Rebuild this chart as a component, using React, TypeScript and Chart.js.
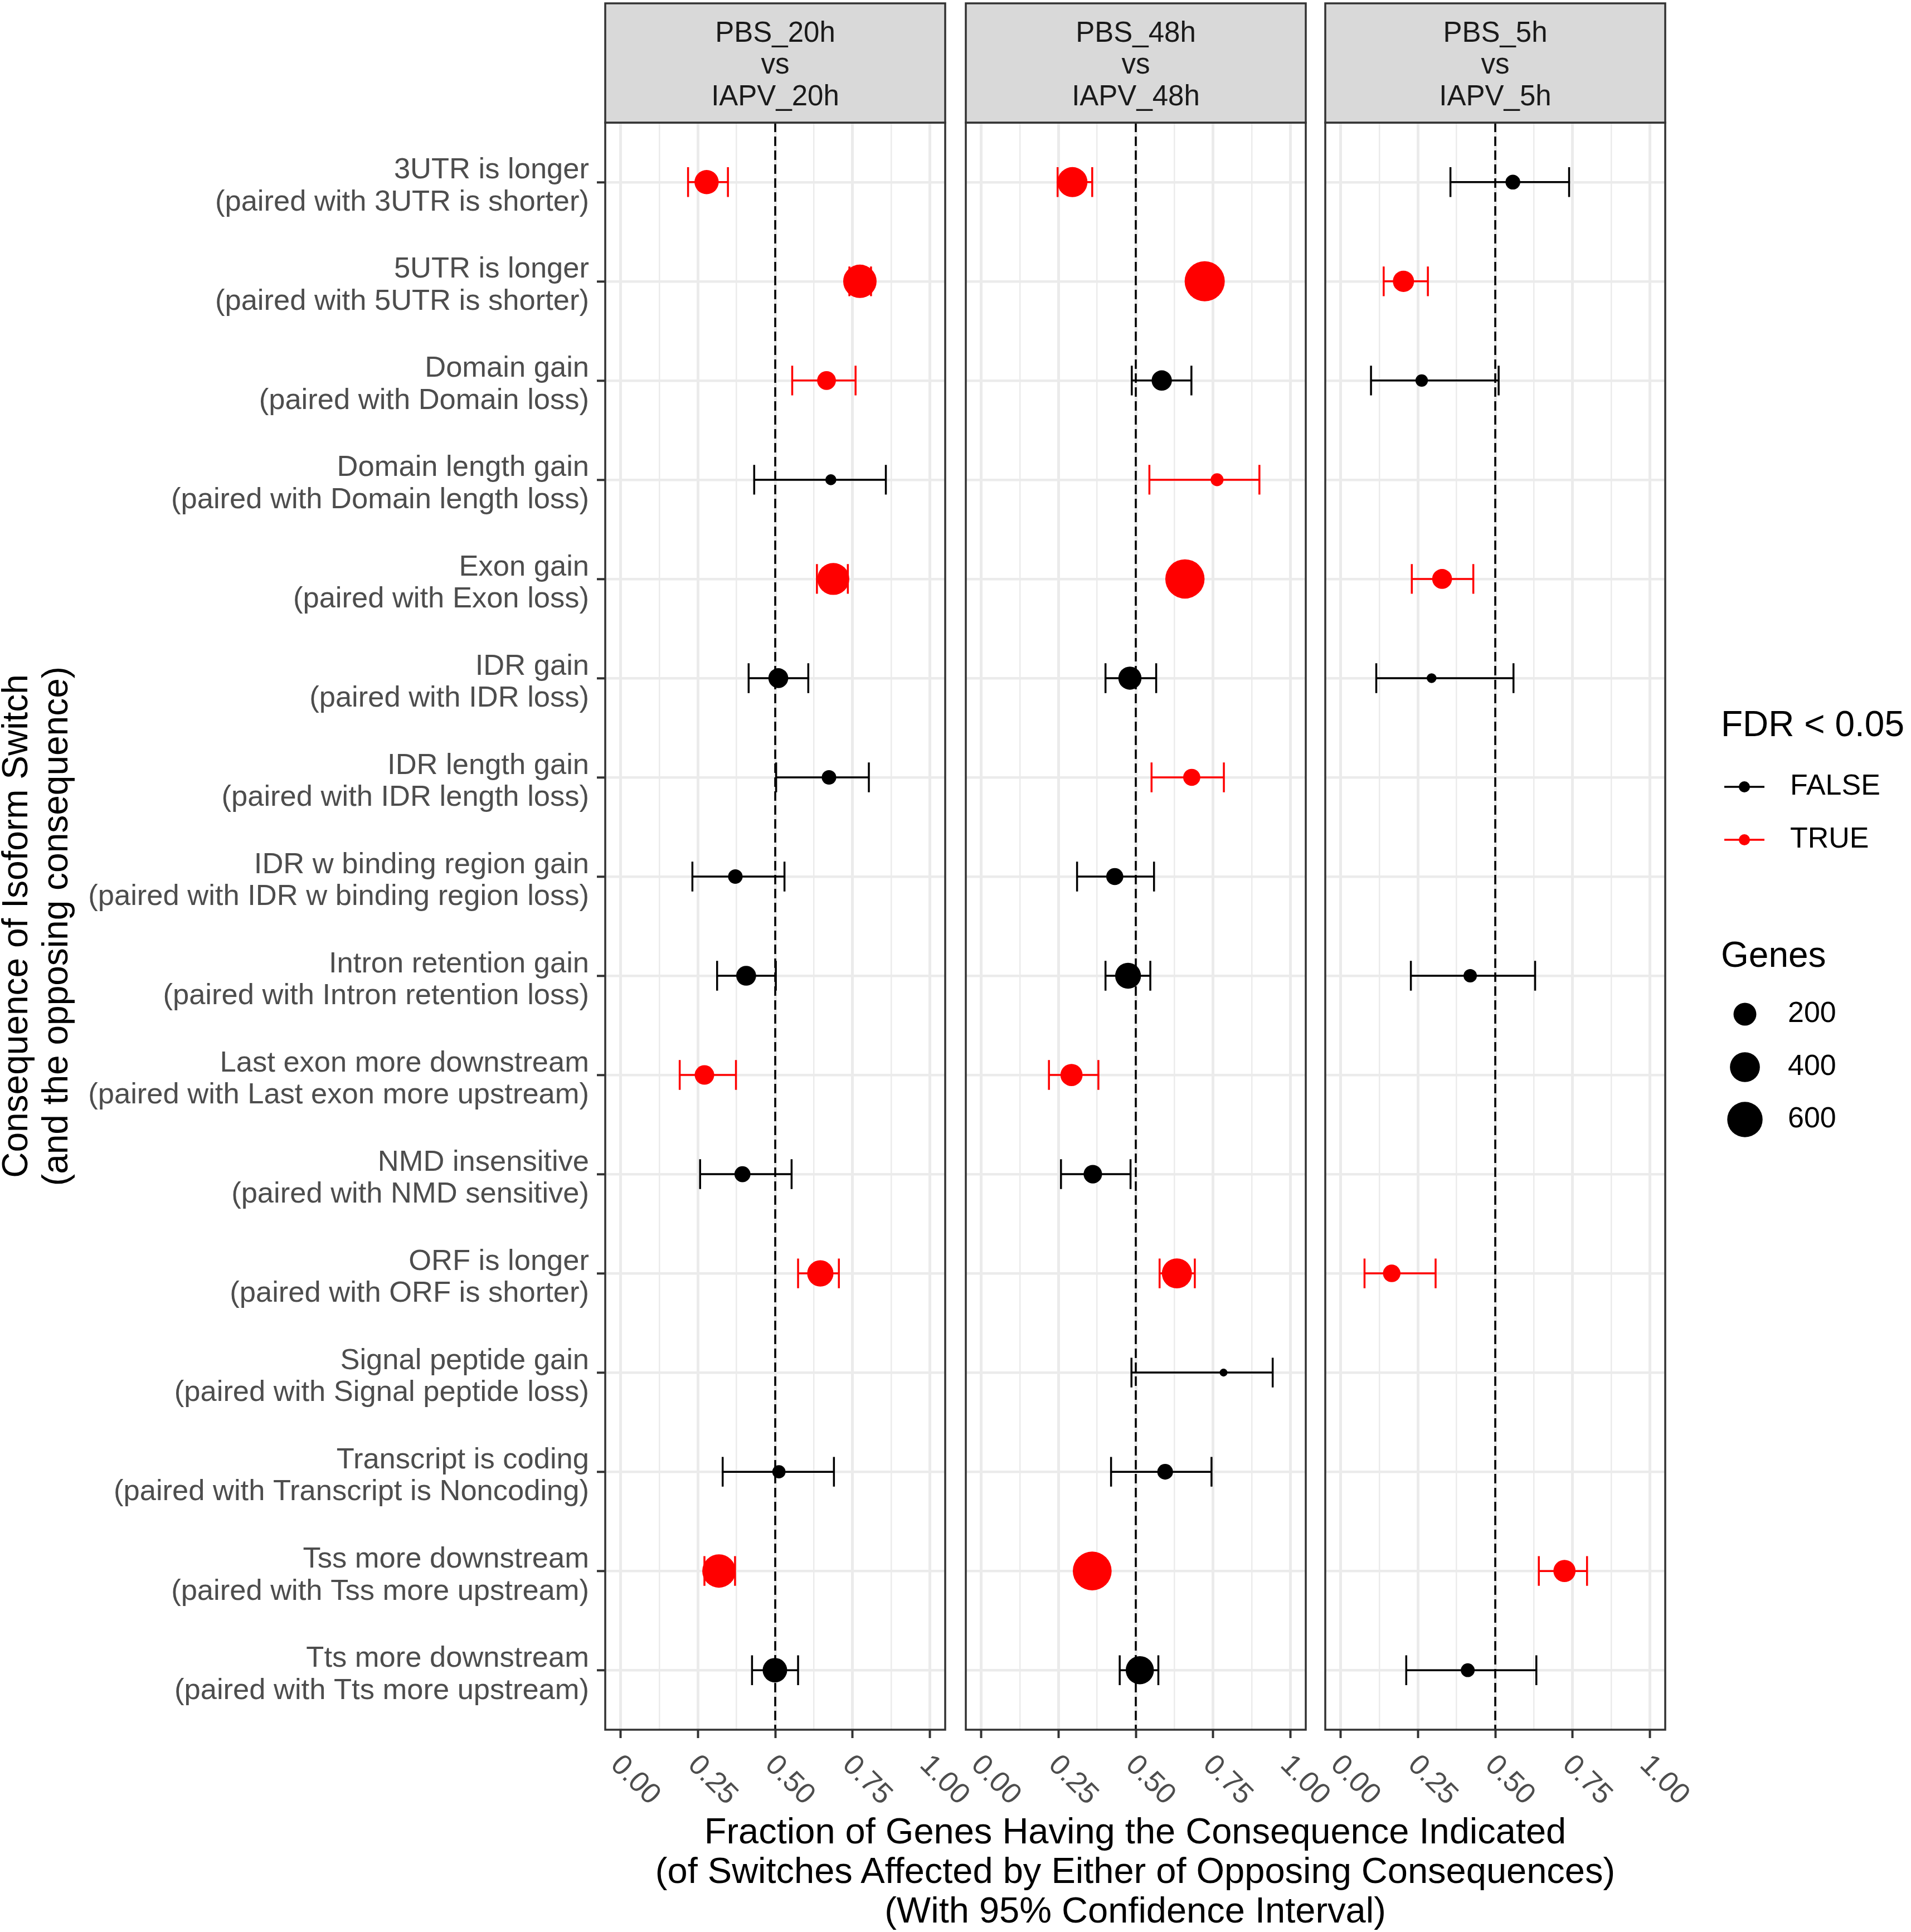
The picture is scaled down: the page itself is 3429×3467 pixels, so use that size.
import React, { useEffect, useRef } from "react";
import { Chart, registerables } from "chart.js";
Chart.register(...registerables);

const FONT = "'Liberation Sans', Arial, Helvetica, sans-serif";

// ---------- data ----------
const categories: string[][] = [
  ["3UTR is longer", "(paired with 3UTR is shorter)"],
  ["5UTR is longer", "(paired with 5UTR is shorter)"],
  ["Domain gain", "(paired with Domain loss)"],
  ["Domain length gain", "(paired with Domain length loss)"],
  ["Exon gain", "(paired with Exon loss)"],
  ["IDR gain", "(paired with IDR loss)"],
  ["IDR length gain", "(paired with IDR length loss)"],
  ["IDR w binding region gain", "(paired with IDR w binding region loss)"],
  ["Intron retention gain", "(paired with Intron retention loss)"],
  ["Last exon more downstream", "(paired with Last exon more upstream)"],
  ["NMD insensitive", "(paired with NMD sensitive)"],
  ["ORF is longer", "(paired with ORF is shorter)"],
  ["Signal peptide gain", "(paired with Signal peptide loss)"],
  ["Transcript is coding", "(paired with Transcript is Noncoding)"],
  ["Tss more downstream", "(paired with Tss more upstream)"],
  ["Tts more downstream", "(paired with Tts more upstream)"],
];

const panelTitles: string[][] = [
  ["PBS_20h", "vs", "IAPV_20h"],
  ["PBS_48h", "vs", "IAPV_48h"],
  ["PBS_5h", "vs", "IAPV_5h"],
];

const xTicks = [0, 0.25, 0.5, 0.75, 1];
const xTickLabels = ["0.00", "0.25", "0.50", "0.75", "1.00"];
const xMinorTicks = [0.125, 0.375, 0.625, 0.875];

// PBS_20h vs IAPV_20h
const frac20h = [0.278, 0.774, 0.666, 0.68, 0.688, 0.51, 0.674, 0.371, 0.406, 0.271, 0.394, 0.646, null, 0.512, 0.318, 0.499];
const lower20h = [0.218, 0.74, 0.555, 0.432, 0.635, 0.414, 0.503, 0.232, 0.312, 0.191, 0.257, 0.574, null, 0.33, 0.271, 0.425];
const upper20h = [0.347, 0.81, 0.76, 0.858, 0.735, 0.607, 0.803, 0.53, 0.502, 0.373, 0.553, 0.706, null, 0.69, 0.37, 0.574];
const genes20h = [233, 524, 117, 19, 471, 137, 53, 53, 137, 130, 72, 289, null, 38, 524, 241];
const sig20h = [true, true, true, false, true, false, false, false, false, true, false, true, null, false, true, false];

// PBS_48h vs IAPV_48h
const frac48h = [0.295, 0.723, 0.584, 0.763, 0.659, 0.481, 0.681, 0.432, 0.475, 0.292, 0.361, 0.633, 0.784, 0.595, 0.359, 0.513];
const lower48h = [0.247, 0.69, 0.487, 0.544, 0.625, 0.402, 0.551, 0.31, 0.402, 0.219, 0.258, 0.577, 0.486, 0.42, 0.33, 0.448];
const upper48h = [0.359, 0.755, 0.68, 0.9, 0.69, 0.566, 0.785, 0.559, 0.547, 0.379, 0.483, 0.691, 0.943, 0.745, 0.39, 0.573];
const genes48h = [404, 809, 146, 35, 769, 207, 88, 88, 276, 185, 111, 404, 3, 68, 749, 345];
const sig48h = [true, true, false, true, true, false, true, false, false, true, false, true, false, false, true, false];

// PBS_5h vs IAPV_5h
const frac5h = [0.557, 0.203, 0.262, null, 0.328, 0.294, null, null, 0.419, null, null, 0.165, null, null, 0.724, 0.411];
const lower5h = [0.355, 0.139, 0.098, null, 0.23, 0.115, null, null, 0.227, null, null, 0.077, null, null, 0.641, 0.212];
const upper5h = [0.739, 0.282, 0.511, null, 0.429, 0.559, null, null, 0.629, null, null, 0.307, null, null, 0.797, 0.633];
const genes5h = [56, 164, 31, null, 137, 11, null, null, 40, null, null, 95, null, null, 185, 45];
const sig5h = [false, true, false, null, true, false, null, null, false, null, null, true, null, null, true, false];

const fdrLevels = ["FALSE", "TRUE"];
const genesBreaks = [200, 400, 600];

const panels = [
  { frac: frac20h, lower: lower20h, upper: upper20h, genes: genes20h, sig: sig20h },
  { frac: frac48h, lower: lower48h, upper: upper48h, genes: genes48h, sig: sig48h },
  { frac: frac5h, lower: lower5h, upper: upper5h, genes: genes5h, sig: sig5h },
];

// ---------- layout ----------
const W = 3429;
const PANEL_LEFTS = [1086, 1733, 2378];
const PANEL_W = 610;
const PANEL_TOP = 220;
const PANEL_BOTTOM = 3104;
const STRIP_TOP = 6;
const M = 6;
const EXTRA_R = 110;
const X_AXIS_H = 150;
const RED = "#FF0000";
const BLACK = "#000000";
const GRID = "#EBEBEB";
const BORDER = "#333333";

const rad = (n: number) => (10.3 + 2.17 * Math.sqrt(n)) / 2;

function canvasBox(i: number) {
  const left = i === 0 ? 0 : PANEL_LEFTS[i] - M;
  const right = i === 2 ? W : PANEL_LEFTS[i] + PANEL_W + M + EXTRA_R;
  return { left, width: right - left, height: PANEL_BOTTOM + X_AXIS_H };
}

function buildConfig(i: number): any {
  const p = panels[i];
  const box = canvasBox(i);
  const mk = (want: boolean) =>
    p.frac
      .map((v, r) => (v == null || p.sig[r] !== want ? null : { x: v, y: r, n: p.genes[r] as number }))
      .filter((d) => d != null);

  const decor = {
    id: "decor" + i,
    beforeDatasetsDraw(chart: any) {
      const { ctx, chartArea: a, scales } = chart;
      const x = scales.x, y = scales.y;
      // reference line
      ctx.save();
      ctx.beginPath();
      ctx.setLineDash([17, 8]);
      ctx.lineWidth = 3.5;
      ctx.strokeStyle = BLACK;
      const px = x.getPixelForValue(0.5);
      ctx.moveTo(px, a.top);
      ctx.lineTo(px, a.bottom);
      ctx.stroke();
      ctx.restore();
      // error bars
      ctx.save();
      ctx.lineWidth = 3.5;
      p.frac.forEach((v, r) => {
        if (v == null) return;
        const lo = x.getPixelForValue(p.lower[r] as number);
        const hi = x.getPixelForValue(p.upper[r] as number);
        const yc = y.getPixelForValue(r);
        const y1 = y.getPixelForValue(r - 0.15);
        const y2 = y.getPixelForValue(r + 0.15);
        ctx.strokeStyle = p.sig[r] ? RED : BLACK;
        ctx.beginPath();
        ctx.moveTo(lo, yc);
        ctx.lineTo(hi, yc);
        ctx.moveTo(lo, y1);
        ctx.lineTo(lo, y2);
        ctx.moveTo(hi, y1);
        ctx.lineTo(hi, y2);
        ctx.stroke();
      });
      ctx.restore();
    },
    afterDraw(chart: any) {
      const { ctx, chartArea: a, scales } = chart;
      const x = scales.x;
      ctx.save();
      // panel border
      ctx.lineWidth = 3.5;
      ctx.strokeStyle = BORDER;
      ctx.strokeRect(a.left, a.top, a.right - a.left, a.bottom - a.top);
      // strip
      ctx.fillStyle = "#D9D9D9";
      ctx.fillRect(a.left, STRIP_TOP, a.right - a.left, PANEL_TOP - STRIP_TOP);
      ctx.strokeRect(a.left, STRIP_TOP, a.right - a.left, PANEL_TOP - STRIP_TOP);
      ctx.fillStyle = "#1A1A1A";
      ctx.font = `51px ${FONT}`;
      ctx.textAlign = "center";
      ctx.textBaseline = "middle";
      const cx = (a.left + a.right) / 2;
      [61, 118, 175].forEach((yy, k) => ctx.fillText(panelTitles[i][k], cx, yy));
      // x tick labels (rotated)
      ctx.fillStyle = "#4D4D4D";
      ctx.font = `52px ${FONT}`;
      ctx.textAlign = "left";
      xTicks.forEach((v, k) => {
        const tx = x.getPixelForValue(v);
        ctx.save();
        ctx.translate(tx - 10, a.bottom + 55);
        ctx.rotate(Math.PI / 4);
        ctx.fillText(xTickLabels[k], 0, 0);
        ctx.restore();
      });
      // y title
      if (i === 0) {
        ctx.fillStyle = BLACK;
        ctx.font = `64px ${FONT}`;
        ctx.textAlign = "center";
        const yc = (a.top + a.bottom) / 2;
        const lines = ["Consequence of Isoform Switch", "(and the opposing consequence)"];
        [31, 103].forEach((xx, k) => {
          ctx.save();
          ctx.translate(xx, yc);
          ctx.rotate(-Math.PI / 2);
          ctx.fillText(lines[k], 0, 0);
          ctx.restore();
        });
      }
      // legend
      if (i === 2) {
        const ox = box.left;
        const L = (X: number) => X - ox;
        ctx.fillStyle = BLACK;
        ctx.textAlign = "left";
        ctx.textBaseline = "middle";
        ctx.font = `64px ${FONT}`;
        ctx.fillText("FDR < 0.05", L(3088), 1303);
        [1412, 1507].forEach((yy, k) => {
          const col = k === 0 ? BLACK : RED;
          ctx.strokeStyle = col;
          ctx.fillStyle = col;
          ctx.lineWidth = 3.5;
          ctx.beginPath();
          ctx.moveTo(L(3094), yy);
          ctx.lineTo(L(3166), yy);
          ctx.stroke();
          ctx.beginPath();
          ctx.arc(L(3130), yy, 10, 0, Math.PI * 2);
          ctx.fill();
          ctx.fillStyle = BLACK;
          ctx.font = `52px ${FONT}`;
          ctx.fillText(fdrLevels[k], L(3212), yy);
        });
        ctx.font = `64px ${FONT}`;
        ctx.fillText("Genes", L(3088), 1717);
        [1820, 1915, 2009].forEach((yy, k) => {
          ctx.fillStyle = BLACK;
          ctx.beginPath();
          ctx.arc(L(3131), yy, rad(genesBreaks[k]), 0, Math.PI * 2);
          ctx.fill();
          ctx.font = `52px ${FONT}`;
          ctx.fillText(String(genesBreaks[k]), L(3208), yy);
        });
      }
      ctx.restore();
    },
  };

  const isMajorX = (c: any) => c.tick && Math.abs(Math.round(c.tick.value * 4) - c.tick.value * 4) < 1e-6;
  const radFn = (c: any) => rad(c.raw ? c.raw.n : 100);

  return {
    type: "scatter",
    data: {
      datasets: [
        { label: "FALSE", data: mk(false), backgroundColor: BLACK, pointBackgroundColor: BLACK, pointBorderWidth: 0, pointRadius: radFn, pointHoverRadius: radFn },
        { label: "TRUE", data: mk(true), backgroundColor: RED, pointBackgroundColor: RED, pointBorderWidth: 0, pointRadius: radFn, pointHoverRadius: radFn },
      ],
    },
    options: {
      animation: false,
      responsive: false,
      events: [],
      layout: {
        autoPadding: false,
        padding: {
          top: PANEL_TOP,
          right: i === 2 ? W - (PANEL_LEFTS[2] + PANEL_W) : M + EXTRA_R,
          bottom: 0,
          left: 0,
        },
      },
      plugins: { legend: { display: false }, tooltip: { enabled: false } },
      scales: {
        x: {
          type: "linear",
          min: -0.05,
          max: 1.05,
          afterBuildTicks: (s: any) => {
            s.ticks = [...xTicks, ...xMinorTicks].sort((a, b) => a - b).map((v) => ({ value: v }));
          },
          afterFit: (s: any) => {
            s.height = X_AXIS_H;
          },
          ticks: { display: false },
          border: { display: false },
          grid: {
            color: GRID,
            lineWidth: (c: any) => (isMajorX(c) ? 5 : 2.5),
            drawTicks: true,
            tickLength: 15,
            tickWidth: 4,
            tickColor: (c: any) => (isMajorX(c) ? BORDER : "rgba(0,0,0,0)"),
          },
        },
        y: {
          type: "linear",
          reverse: true,
          min: -0.6,
          max: 15.6,
          afterBuildTicks: (s: any) => {
            s.ticks = categories.map((_, r) => ({ value: r }));
          },
          afterFit: (s: any) => {
            s.width = i === 0 ? PANEL_LEFTS[0] : M;
          },
          border: { display: false },
          ticks: {
            display: i === 0,
            autoSkip: false,
            padding: 14,
            labelOffset: 8,
            color: "#4D4D4D",
            font: { size: 52.5, family: FONT, lineHeight: 1.1 },
            callback: (v: any) => categories[Math.round(Number(v))] || "",
          },
          grid: {
            color: GRID,
            lineWidth: 4.6,
            drawTicks: i === 0,
            tickLength: 15,
            tickWidth: 4,
            tickColor: BORDER,
          },
        },
      },
    },
    plugins: [decor],
  };
}

export default function App() {
  const r0 = useRef<HTMLCanvasElement>(null);
  const r1 = useRef<HTMLCanvasElement>(null);
  const r2 = useRef<HTMLCanvasElement>(null);
  const refs = [r0, r1, r2];

  useEffect(() => {
    const charts = refs.map((r, i) => new Chart(r.current as HTMLCanvasElement, buildConfig(i)));
    return () => charts.forEach((c) => c.destroy());
  }, []);

  return (
    <div style={{ position: "absolute", left: 0, top: 0, width: W, height: 3467, background: "#ffffff", fontFamily: FONT, overflow: "hidden" }}>
      {refs.map((r, i) => {
        const b = canvasBox(i);
        return (
          <canvas
            key={i}
            ref={r}
            width={b.width}
            height={b.height}
            style={{ position: "absolute", left: b.left, top: 0, width: b.width, height: b.height }}
          />
        );
      })}
      <div
        style={{
          position: "absolute",
          left: PANEL_LEFTS[0],
          width: PANEL_LEFTS[2] + PANEL_W - PANEL_LEFTS[0],
          top: 3250,
          fontSize: 65,
          lineHeight: "71px",
          textAlign: "center",
          color: "#000",
          whiteSpace: "pre",
        }}
      >
        {"Fraction of Genes Having the Consequence Indicated\n(of Switches Affected by Either of Opposing Consequences)\n(With 95% Confidence Interval)"}
      </div>
    </div>
  );
}
